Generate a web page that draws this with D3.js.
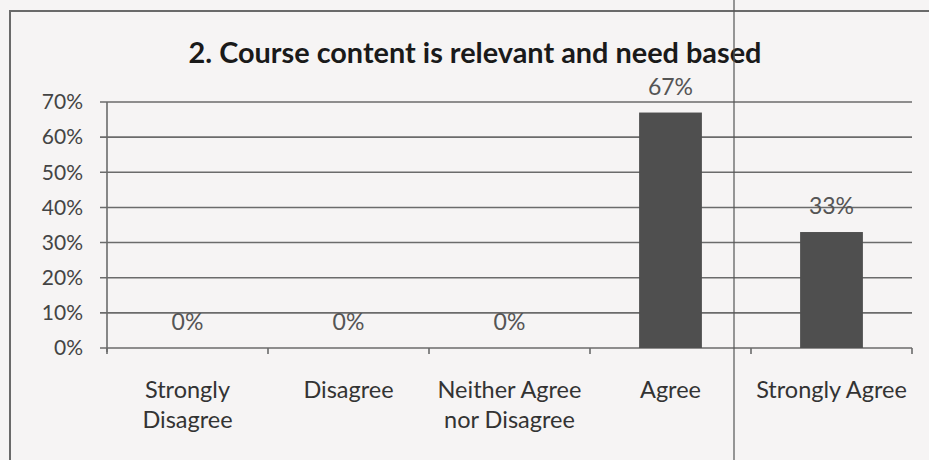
<!DOCTYPE html>
<html>
<head>
<meta charset="utf-8">
<script src="https://cdn.jsdelivr.net/npm/d3@7"></script>
<style>
  html, body { margin: 0; padding: 0; background: #f6f4f4; }
  svg { display: block; font-family: Lato, "Open Sans", sans-serif; }
</style>
</head>
<body>
<svg id="chart" width="929" height="460"></svg>
<script>
const title = "2. Course content is relevant and need based";
const categories = [["Strongly", "Disagree"], ["Disagree"], ["Neither Agree", "nor Disagree"], ["Agree"], ["Strongly Agree"]];
const values = [0, 0, 0, 0.67, 0.33];
const valueLabels = ["0%", "0%", "0%", "67%", "33%"];
const yTicks = [0, 0.1, 0.2, 0.3, 0.4, 0.5, 0.6, 0.7];

const W = 929, H = 460;
const margin = { left: 107, right: 17, top: 102, bottom: 112 };
const svg = d3.select("#chart");

// page background + chart frame
svg.append("rect").attr("width", W).attr("height", H).attr("fill", "#f6f4f4");
svg.append("path")
  .attr("d", `M10,${H} L10,11 L${W},11`)
  .attr("fill", "none").attr("stroke", "#6a6a6a").attr("stroke-width", 2);

const keys = categories.map(c => c.join(" "));
const x = d3.scaleBand().domain(keys).range([margin.left, W - margin.right]).paddingInner(0).paddingOuter(0);
const y = d3.scaleLinear().domain([0, 0.7]).range([H - margin.bottom, margin.top]);

// gridlines
svg.append("g")
  .selectAll("line").data(yTicks).join("line")
  .attr("x1", margin.left - 7).attr("x2", W - margin.right)
  .attr("y1", d => y(d)).attr("y2", d => y(d))
  .attr("stroke", "#6b6b6b").attr("stroke-width", 1.6);

// y axis
const yAxis = svg.append("g")
  .attr("transform", `translate(${margin.left},0)`)
  .call(d3.axisLeft(y).tickValues(yTicks).tickFormat(d3.format(".0%")).tickSize(0).tickPadding(24));
yAxis.select(".domain").remove();
yAxis.append("line").attr("x1", 0).attr("x2", 0).attr("y1", y(0.7)).attr("y2", y(0) + 4)
  .attr("stroke", "#6b6b6b").attr("stroke-width", 1.6);
yAxis.selectAll("text").attr("fill", "#444").attr("font-size", 21).attr("font-family", "Lato, sans-serif");

// x axis (ticks at band boundaries)
const bounds = keys.map(k => x(k)).concat([x(keys[keys.length - 1]) + x.bandwidth()]);
svg.append("g").selectAll("line").data(bounds).join("line")
  .attr("x1", d => d).attr("x2", d => d)
  .attr("y1", y(0)).attr("y2", y(0) + 6)
  .attr("stroke", "#6b6b6b").attr("stroke-width", 1.6);

// bars
const barW = x.bandwidth() * 0.39;
svg.append("g").selectAll("rect").data(values).join("rect")
  .attr("x", (d, i) => x(keys[i]) + x.bandwidth() / 2 - barW / 2)
  .attr("width", barW)
  .attr("y", d => y(d))
  .attr("height", d => y(0) - y(d))
  .attr("fill", "#4f4f4f");

// value labels
svg.append("g").selectAll("text").data(values).join("text")
  .attr("x", (d, i) => x(keys[i]) + x.bandwidth() / 2)
  .attr("y", d => y(d) - 18)
  .attr("text-anchor", "middle")
  .attr("font-size", 23).attr("fill", "#555")
  .text((d, i) => valueLabels[i]);

// category labels
const cat = svg.append("g").selectAll("text").data(categories).join("text")
  .attr("text-anchor", "middle")
  .attr("font-size", 23.5).attr("fill", "#333");
cat.each(function(lines, i) {
  const t = d3.select(this);
  lines.forEach((ln, j) => {
    t.append("tspan")
      .attr("x", x(keys[i]) + x.bandwidth() / 2)
      .attr("y", 398 + j * 30)
      .text(ln);
  });
});

// title
const tt = svg.append("text")
  .attr("x", 475).attr("y", 63)
  .attr("text-anchor", "middle")
  .attr("font-weight", "bold").attr("font-size", 26).attr("fill", "#1a1a1a")
  .text(title);
const tw = tt.node().getComputedTextLength();
tt.attr("font-size", 26 * 573 / tw);

// scan fold line
svg.append("line").attr("x1", 734).attr("x2", 734).attr("y1", 0).attr("y2", H)
  .attr("stroke", "#555").attr("stroke-width", 1.2);
</script>
</body>
</html>
